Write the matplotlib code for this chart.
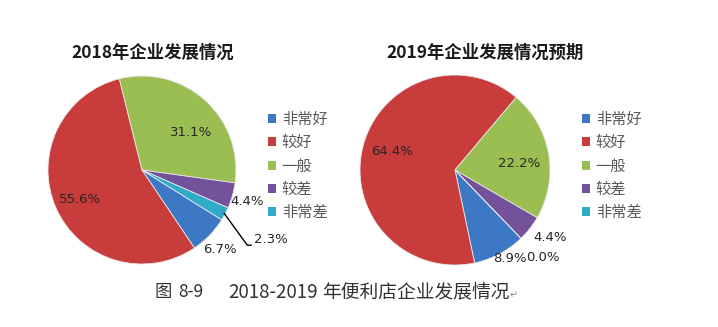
import matplotlib
matplotlib.use("Agg")
import matplotlib.pyplot as plt
from matplotlib.patches import Rectangle
import numpy as np

plt.rcParams['font.family'] = ['Noto Sans CJK SC', 'DejaVu Sans']

categories = ['非常好', '较好', '一般', '较差', '非常差']
values_2018 = [6.7, 55.6, 31.1, 4.4, 2.3]
values_2019 = [8.9, 64.4, 22.2, 4.4, 0.0]
title_2018 = '2018年企业发展情况'
title_2019 = '2019年企业发展情况预期'
caption_parts = ['图', '8-9', '2018-2019', '年便利店企业发展情况']

colors = ['#3d78c4', '#c83c3b', '#9bbe52', '#73529b', '#2fabc8']

W, H = 718, 327
fig = plt.figure(figsize=(W / 100, H / 100), dpi=100)
fig.patch.set_facecolor('white')


def px_axes(cx, cy, r):
    return fig.add_axes([(cx - r) / W, (H - cy - r) / H, 2 * r / W, 2 * r / H])


def draw_pie(cx, cy, r, vals, start, label_pos):
    ax = px_axes(cx, cy, r)
    wedges, _ = ax.pie(vals, colors=colors, startangle=start, counterclock=False,
                       radius=1.0, wedgeprops=dict(linewidth=0.6, edgecolor='#e8e8e8'))
    ax.set_xlim(-1, 1)
    ax.set_ylim(-1, 1)
    ax.set_aspect('equal')
    ax.axis('off')
    texts = []
    for v, (x, y) in zip(vals, label_pos):
        t = ax.text(x, y, f'{v:.1f}%', ha='center', va='center', fontsize=9.5,
                    color='#262626', family=['DejaVu Sans'], clip_on=False)
        texts.append(t)
    return ax, wedges, texts


# label positions (in pie radius units, relative to centre)
pos_2018 = [(0.83, -0.85), (-0.66, -0.31), (0.52, 0.40), (1.12, -0.34), (1.37, -0.74)]
pos_2019 = [(0.58, -0.93), (-0.66, 0.19), (0.68, 0.07), (1.00, -0.71), (0.93, -0.92)]

ax1, w1, t1 = draw_pie(142, 170, 94, values_2018, -32, pos_2018)
ax2, w2, t2 = draw_pie(455, 170, 95, values_2019, -46, pos_2019)

# leader line for the small 2018 slice
ang = np.deg2rad((w1[4].theta1 + w1[4].theta2) / 2)
x0, y0 = 0.99 * np.cos(ang), 0.99 * np.sin(ang)
ax1.plot([x0, 1.12, 1.16], [y0, -0.80, -0.80], color='black', lw=1.0, clip_on=False)

# titles
fig.text(153 / W, 1 - 53 / H, title_2018, ha='center', va='center', fontsize=12.5,
         fontweight='bold', color='#1a1a1a')
fig.text(485 / W, 1 - 53 / H, title_2019, ha='center', va='center', fontsize=12.5,
         fontweight='bold', color='#1a1a1a')

# legends
handles = [Rectangle((0, 0), 1, 1, facecolor=c, edgecolor='none') for c in colors]
for lx in (268, 582):
    fig.legend(handles, categories, loc='upper left',
               bbox_to_anchor=(lx / W, 1 - 111 / H), bbox_transform=fig.transFigure,
               frameon=False, fontsize=11, labelcolor='#595959',
               handlelength=0.55, handleheight=0.55, handletextpad=0.35,
               labelspacing=0.41, borderpad=0, borderaxespad=0)

# caption (segments placed like the original's wide-spaced line)
cap_x = [155, 178, 228, 322]
cap_fs = [12.5, 12.5, 13.5, 13.5]
for part, x, fs in zip(caption_parts, cap_x, cap_fs):
    fig.text(x / W, 1 - 292 / H, part, ha='left', va='center', fontsize=fs,
             color='#333333')
fig.text(510 / W, 1 - 295 / H, '↵', ha='left', va='center', fontsize=7,
         color='#888888', family=['DejaVu Sans'])

fig.savefig('out.png', dpi=100, facecolor='white')
